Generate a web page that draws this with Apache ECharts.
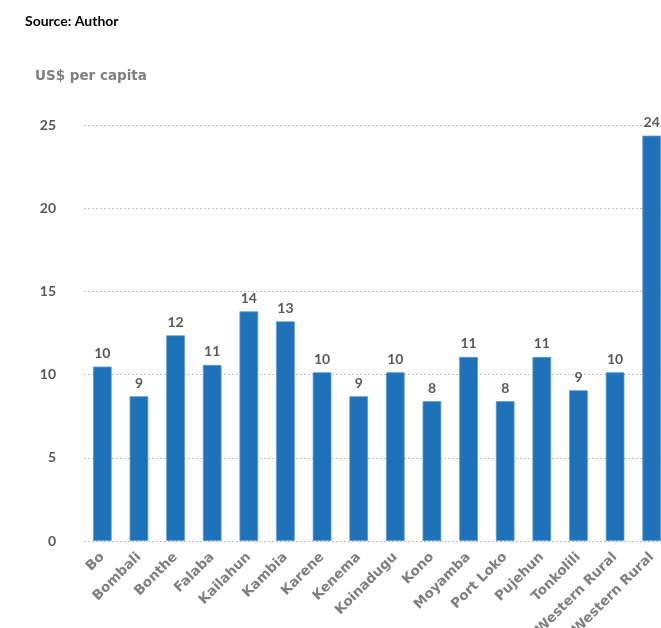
<!DOCTYPE html>
<html>
<head>
<meta charset="utf-8">
<script src="https://cdn.jsdelivr.net/npm/echarts@6/dist/echarts.min.js"></script>
<style>
html,body{margin:0;padding:0;background:#fff;}
#chart{width:661px;height:628px;}
</style>
</head>
<body>
<div id="chart"></div>
<script>
const categories = ["Bo","Bombali","Bonthe","Falaba","Kailahun","Kambia","Karene","Kenema","Koinadugu","Kono","Moyamba","Port Loko","Pujehun","Tonkolili","Western Rural","Western Rural"];
const values = [10.48,8.7,12.36,10.58,13.8,13.2,10.14,8.7,10.14,8.4,11.06,8.4,11.06,9.06,10.14,24.36];
const yTicks = [0,5,10,15,20,25];

const chart = echarts.init(document.getElementById('chart'));
const font = 'Lato, "DejaVu Sans", sans-serif';
const wide = '"DejaVu Sans", sans-serif';
chart.setOption({
  animation:false,
  graphic:[
    {type:'text', left:25, top:14, style:{text:'Source: Author', font:'bold 14px '+font, fill:'#000'}}
  ],
  grid:{left:84, top:125, width:586, bottom:87, containLabel:false, outerBoundsMode:'none'},
  xAxis:{
    type:'category', data:categories,
    axisLine:{show:false}, axisTick:{show:false},
    axisLabel:{rotate:45, interval:0, color:'#7f7f7f', fontWeight:'bold', fontSize:13.5, fontFamily:wide, margin:14}
  },
  yAxis:{
    type:'value', min:0, max:25, interval:5,
    name:'US$ per capita', nameLocation:'end', nameGap:42,
    nameTextStyle:{color:'#7f7f7f', fontWeight:'bold', fontSize:13.5, fontFamily:wide, align:'left', padding:[0,0,0,-49]},
    axisLine:{show:false}, axisTick:{show:false},
    axisLabel:{color:'#595959', fontWeight:'bold', fontSize:14, fontFamily:font, margin:28,
      formatter:function(v){return yTicks.indexOf(v)>=0?String(v):'';}},
    splitLine:{show:true, lineStyle:{type:[2,2], color:'#bfbfbf', width:1}}
  },
  series:[{
    type:'bar', data:values, barWidth:'51%',
    itemStyle:{color:'#1f71b8', borderColor:'#5b9bd5', borderWidth:0.8},
    label:{show:true, position:'top', distance:6, color:'#595959', fontWeight:'bold', fontSize:14, fontFamily:font,
      formatter:function(p){return Math.round(p.value);}}
  }]
});
</script>
</body>
</html>
